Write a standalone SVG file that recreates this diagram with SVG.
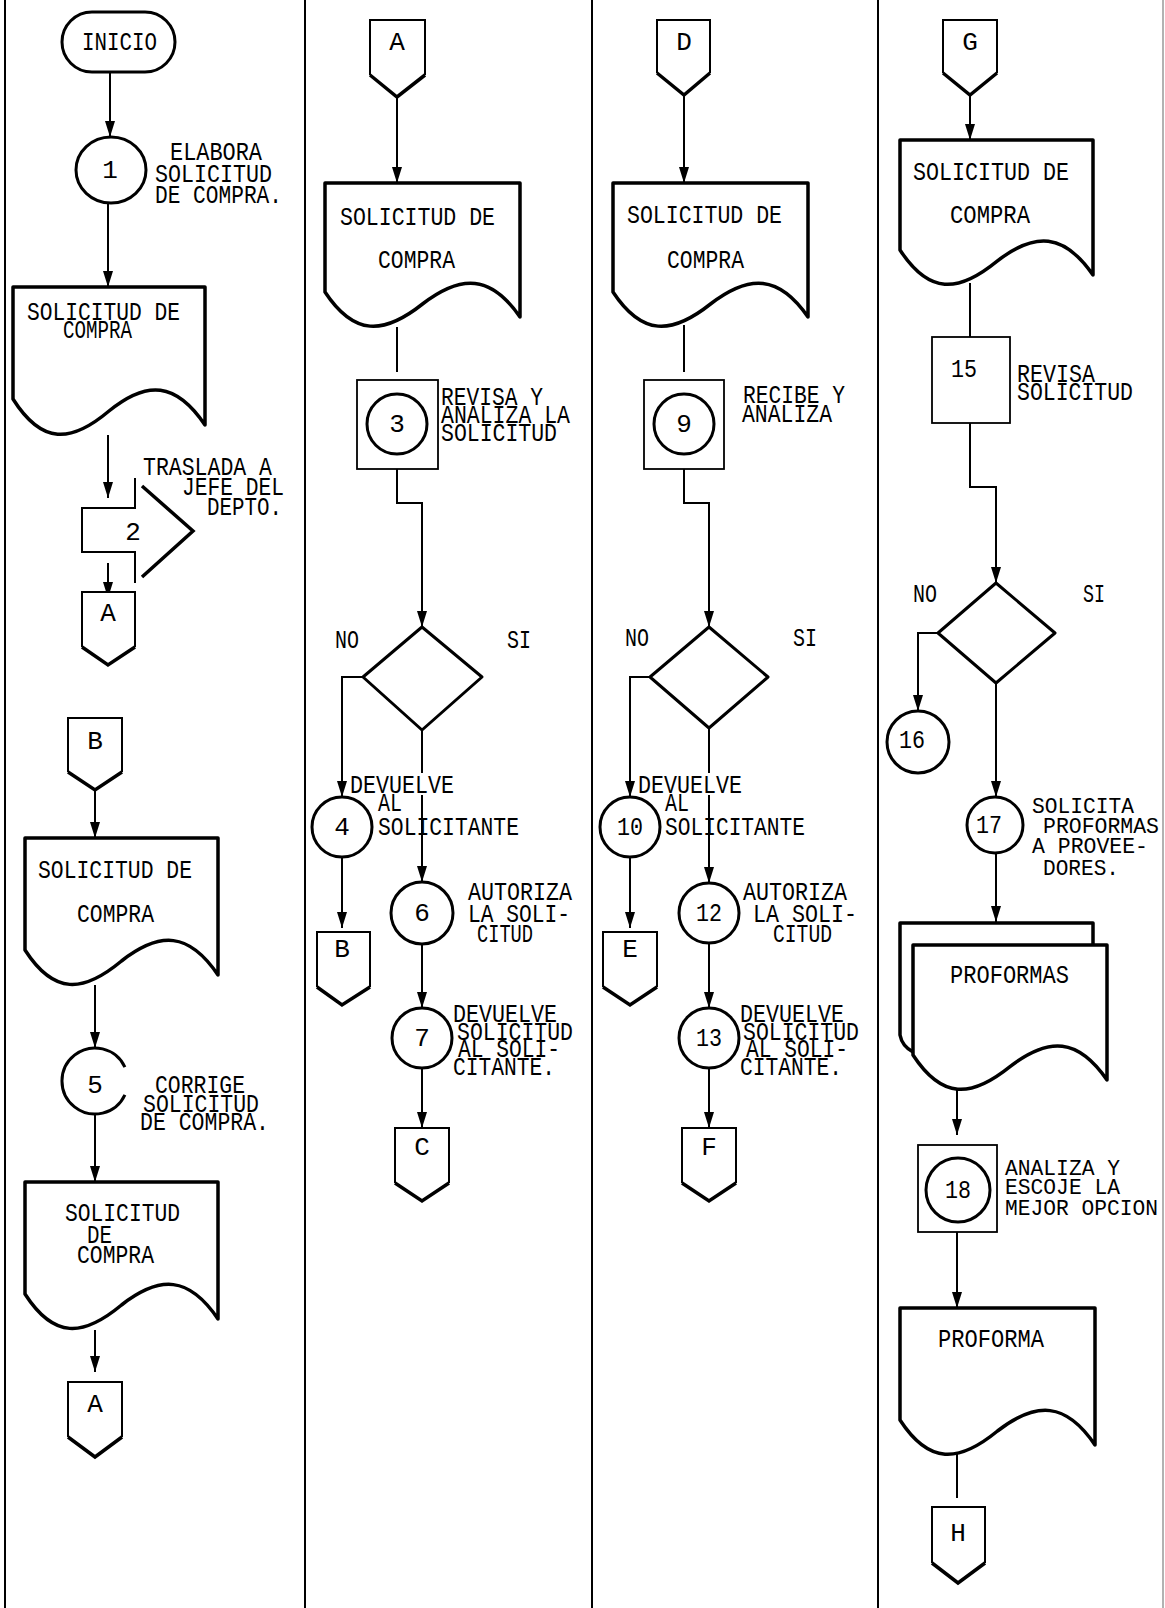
<svg xmlns="http://www.w3.org/2000/svg" width="1165" height="1608" viewBox="0 0 1165 1608">
<style>
.t{font-family:"Liberation Mono","DejaVu Sans Mono",monospace;font-size:26px;fill:#000}
.s{font-size:22px}
.m{text-anchor:middle}
.lane{stroke:#000;stroke-width:2;fill:none}
.doc{fill:#fff;stroke:#000;stroke-width:3.5;stroke-linejoin:round}
.cir{fill:#fff;stroke:#000;stroke-width:3}
.box{fill:#fff;stroke:#000;stroke-width:1.8}
.dia{fill:#fff;stroke:#000;stroke-width:3;stroke-linejoin:round}
.con{fill:#fff;stroke:#000;stroke-width:2;stroke-linejoin:miter}
.cv{fill:none;stroke:#000;stroke-width:3.5}
.ln{fill:none;stroke:#000;stroke-width:2}
.ar{fill:none;stroke:#000;stroke-width:2;marker-end:url(#ah)}
</style>
<defs>
<marker id="ah" viewBox="0 0 16 10" refX="16" refY="5" markerWidth="16" markerHeight="10" markerUnits="userSpaceOnUse" orient="auto">
<path d="M0,0 L16,5 L0,10 Z" fill="#000"/>
</marker>
</defs>
<rect width="1165" height="1608" fill="#fff"/>

<g id="lanes">
<line class="lane" x1="5" y1="0" x2="5" y2="1608" stroke-width="3"/>
<line class="lane" x1="305" y1="0" x2="305" y2="1608"/>
<line class="lane" x1="592" y1="0" x2="592" y2="1608"/>
<line class="lane" x1="878" y1="0" x2="878" y2="1608"/>
<line x1="1163" y1="0" x2="1163" y2="1608" stroke="#999" stroke-width="1.5"/>
</g>

<g id="connectors">
<path class="ar" d="M110,72 V137"/>
<path class="ar" d="M108,203 V287"/>
<path class="ar" d="M108,435 V498"/>
<path class="ar" d="M108,563 V598"/>
<path class="ar" d="M95,790 V838"/>
<path class="ar" d="M95,985 V1048"/>
<path class="ar" d="M95,1114 V1182"/>
<path class="ar" d="M95,1330 V1372"/>

<path class="ar" d="M397,97 V183"/>
<path class="ln" d="M397,327 V372"/>
<path class="ar" d="M397,469 V503 H422 V627"/>
<path class="ar" d="M363,677 H342 V797"/>
<path class="ar" d="M422,730 V773 M422,795 V882"/>
<path class="ar" d="M342,857 V928"/>
<path class="ar" d="M422,944 V1008"/>
<path class="ar" d="M422,1068 V1128"/>

<path class="ar" d="M684,95 V183"/>
<path class="ln" d="M684,325 V372"/>
<path class="ar" d="M684,469 V503 H709 V627"/>
<path class="ar" d="M650,677 H630 V797"/>
<path class="ar" d="M709,728 V773 M709,795 V883"/>
<path class="ar" d="M630,857 V928"/>
<path class="ar" d="M709,943 V1008"/>
<path class="ar" d="M709,1068 V1128"/>

<path class="ar" d="M970,95 V140"/>
<path class="ln" d="M970,283 V337"/>
<path class="ar" d="M970,423 V487 H996 V583"/>
<path class="ar" d="M938,633 H918 V711"/>
<path class="ar" d="M996,683 V797"/>
<path class="ar" d="M996,853 V922"/>
<path class="ar" d="M957,1089 V1135"/>
<path class="ar" d="M957,1232 V1308"/>
<path class="ln" d="M957,1453 V1498"/>
</g>

<!-- Column 1 -->
<g id="inicio">
<rect x="62" y="12" width="113" height="60" rx="30" fill="#fff" stroke="#000" stroke-width="3"/>
<text class="t" x="82" y="50" textLength="75" lengthAdjust="spacingAndGlyphs">INICIO</text>
</g>
<g id="op1">
<ellipse class="cir" cx="111" cy="170" rx="35" ry="33"/>
<text class="t m" x="110" y="178">1</text>
<text class="t" x="170" y="160" textLength="92" lengthAdjust="spacingAndGlyphs">ELABORA</text>
<text class="t" x="155" y="182" textLength="117" lengthAdjust="spacingAndGlyphs">SOLICITUD</text>
<text class="t" x="155" y="203" textLength="127" lengthAdjust="spacingAndGlyphs">DE COMPRA.</text>
</g>
<g id="doc1">
<path class="doc" d="M13,287 H205 V425 C176,382 147,380 109,411 C71,443 42,445 13,399 Z"/>
<text class="t" x="27" y="320" textLength="153" lengthAdjust="spacingAndGlyphs">SOLICITUD DE</text>
<text class="t" x="63" y="338" textLength="69" lengthAdjust="spacingAndGlyphs">COMPRA</text>
</g>
<g id="transport2">
<path class="ln" d="M135,478 V508 H82 V552 H135 V583"/>
<path class="cv" d="M142,486 L193,531 L142,577"/>
<text class="t m" x="133" y="540">2</text>
<text class="t" x="143" y="475" textLength="129" lengthAdjust="spacingAndGlyphs">TRASLADA A</text>
<text class="t" x="182" y="495" textLength="102" lengthAdjust="spacingAndGlyphs">JEFE DEL</text>
<text class="t" x="207" y="515" textLength="75" lengthAdjust="spacingAndGlyphs">DEPTO.</text>
</g>
<g id="connA1">
<path class="con" d="M82,647 V592 H135 V647"/>
<path class="cv" d="M82,647 L108,665 L135,647"/>
<text class="t m" x="108" y="621">A</text>
</g>
<g id="connB1">
<path class="con" d="M68,772 V718 H122 V772"/>
<path class="cv" d="M68,772 L95,790 L122,772"/>
<text class="t m" x="95" y="749">B</text>
</g>
<g id="doc2">
<path class="doc" d="M25,838 H218 V975 C189,932 160,931 121.5,961 C83,993 54,995 25,950 Z"/>
<text class="t" x="38" y="878" textLength="154" lengthAdjust="spacingAndGlyphs">SOLICITUD DE</text>
<text class="t" x="77" y="922" textLength="77" lengthAdjust="spacingAndGlyphs">COMPRA</text>
</g>
<g id="op5">
<path class="cir" fill="none" d="M124.9,1067.1 A33,33 0 1 0 124.9,1094.9"/>
<text class="t m" x="95" y="1093">5</text>
<text class="t" x="155" y="1093" textLength="90" lengthAdjust="spacingAndGlyphs">CORRIGE</text>
<text class="t" x="143" y="1112" textLength="116" lengthAdjust="spacingAndGlyphs">SOLICITUD</text>
<text class="t" x="140" y="1130" textLength="129" lengthAdjust="spacingAndGlyphs">DE COMPRA.</text>
</g>
<g id="doc3">
<path class="doc" d="M25,1182 H218 V1319 C189,1276 160,1275 121.5,1305 C83,1337 54,1339 25,1294 Z"/>
<text class="t" x="65" y="1221" textLength="115" lengthAdjust="spacingAndGlyphs">SOLICITUD</text>
<text class="t" x="87" y="1243" textLength="25" lengthAdjust="spacingAndGlyphs">DE</text>
<text class="t" x="77" y="1263" textLength="77" lengthAdjust="spacingAndGlyphs">COMPRA</text>
</g>
<g id="connA1b">
<path class="con" d="M68,1437 V1382 H122 V1437"/>
<path class="cv" d="M68,1437 L95,1457 L122,1437"/>
<text class="t m" x="95" y="1412">A</text>
</g>

<!-- Column 2 -->
<g id="connA2">
<path class="con" d="M370,75 V20 H425 V75"/>
<path class="cv" d="M370,75 L397,97 L425,75"/>
<text class="t m" x="397" y="50">A</text>
</g>
<g id="doc4">
<path class="doc" d="M325,183 H520 V317 C491,275 461.5,274 422.5,304 C383.5,335 354,336 325,292 Z"/>
<text class="t" x="340" y="225" textLength="155" lengthAdjust="spacingAndGlyphs">SOLICITUD DE</text>
<text class="t" x="378" y="268" textLength="77" lengthAdjust="spacingAndGlyphs">COMPRA</text>
</g>
<g id="op3">
<rect class="box" x="357" y="380" width="81" height="89"/>
<circle class="cir" cx="397" cy="424" r="30"/>
<text class="t m" x="397" y="432">3</text>
<text class="t" x="441" y="405" textLength="102" lengthAdjust="spacingAndGlyphs">REVISA Y</text>
<text class="t" x="441" y="423" textLength="129" lengthAdjust="spacingAndGlyphs">ANALIZA LA</text>
<text class="t" x="441" y="441" textLength="116" lengthAdjust="spacingAndGlyphs">SOLICITUD</text>
</g>
<g id="dec2">
<polygon class="dia" points="422,627 482,677 422,730 363,677"/>
<text class="t" x="335" y="648" textLength="24" lengthAdjust="spacingAndGlyphs">NO</text>
<text class="t" x="507" y="648" textLength="24" lengthAdjust="spacingAndGlyphs">SI</text>
</g>
<g id="op4">
<circle class="cir" cx="342" cy="827" r="30"/>
<text class="t m" x="342" y="835">4</text>
<text class="t" x="350" y="793" textLength="104" lengthAdjust="spacingAndGlyphs">DEVUELVE</text>
<text class="t" x="378" y="811" textLength="24" lengthAdjust="spacingAndGlyphs">AL</text>
<text class="t" x="378" y="835" textLength="141" lengthAdjust="spacingAndGlyphs">SOLICITANTE</text>
</g>
<g id="op6">
<circle class="cir" cx="422" cy="913" r="31"/>
<text class="t m" x="422" y="921">6</text>
<text class="t" x="468" y="900" textLength="104" lengthAdjust="spacingAndGlyphs">AUTORIZA</text>
<text class="t" x="468" y="922" textLength="102" lengthAdjust="spacingAndGlyphs">LA SOLI-</text>
<text class="t" x="477" y="942" textLength="56" lengthAdjust="spacingAndGlyphs">CITUD</text>
</g>
<g id="connB2">
<path class="con" d="M317,987 V932 H370 V987"/>
<path class="cv" d="M317,987 L342,1005 L370,987"/>
<text class="t m" x="342" y="957">B</text>
</g>
<g id="op7">
<circle class="cir" cx="422" cy="1038" r="30"/>
<text class="t m" x="422" y="1046">7</text>
<text class="t" x="453" y="1022" textLength="104" lengthAdjust="spacingAndGlyphs">DEVUELVE</text>
<text class="t" x="457" y="1040" textLength="116" lengthAdjust="spacingAndGlyphs">SOLICITUD</text>
<text class="t" x="458" y="1057" textLength="102" lengthAdjust="spacingAndGlyphs">AL SOLI-</text>
<text class="t" x="453" y="1075" textLength="102" lengthAdjust="spacingAndGlyphs">CITANTE.</text>
</g>
<g id="connC">
<path class="con" d="M395,1183 V1128 H449 V1183"/>
<path class="cv" d="M395,1183 L422,1201 L449,1183"/>
<text class="t m" x="422" y="1155">C</text>
</g>

<!-- Column 3 -->
<g id="connD">
<path class="con" d="M657,73 V20 H710 V73"/>
<path class="cv" d="M657,73 L684,95 L710,73"/>
<text class="t m" x="684" y="50">D</text>
</g>
<g id="doc5">
<path class="doc" d="M613,183 H808 V317 C779,275 749.5,274 710.5,304 C671.5,335 642,336 613,292 Z"/>
<text class="t" x="627" y="223" textLength="155" lengthAdjust="spacingAndGlyphs">SOLICITUD DE</text>
<text class="t" x="667" y="268" textLength="77" lengthAdjust="spacingAndGlyphs">COMPRA</text>
</g>
<g id="op9">
<rect class="box" x="644" y="380" width="80" height="89"/>
<circle class="cir" cx="684" cy="424" r="30"/>
<text class="t m" x="684" y="432">9</text>
<text class="t" x="743" y="403" textLength="102" lengthAdjust="spacingAndGlyphs">RECIBE Y</text>
<text class="t" x="742" y="422" textLength="90" lengthAdjust="spacingAndGlyphs">ANALIZA</text>
</g>
<g id="dec3">
<polygon class="dia" points="709,627 768,677 709,728 650,677"/>
<text class="t" x="625" y="646" textLength="24" lengthAdjust="spacingAndGlyphs">NO</text>
<text class="t" x="793" y="646" textLength="24" lengthAdjust="spacingAndGlyphs">SI</text>
</g>
<g id="op10">
<circle class="cir" cx="630" cy="827" r="30"/>
<text class="t m" x="630" y="835" textLength="26" lengthAdjust="spacingAndGlyphs">10</text>
<text class="t" x="638" y="793" textLength="104" lengthAdjust="spacingAndGlyphs">DEVUELVE</text>
<text class="t" x="665" y="811" textLength="24" lengthAdjust="spacingAndGlyphs">AL</text>
<text class="t" x="665" y="835" textLength="140" lengthAdjust="spacingAndGlyphs">SOLICITANTE</text>
</g>
<g id="op12">
<circle class="cir" cx="709" cy="913" r="30"/>
<text class="t m" x="709" y="921" textLength="26" lengthAdjust="spacingAndGlyphs">12</text>
<text class="t" x="743" y="900" textLength="104" lengthAdjust="spacingAndGlyphs">AUTORIZA</text>
<text class="t" x="753" y="922" textLength="104" lengthAdjust="spacingAndGlyphs">LA SOLI-</text>
<text class="t" x="773" y="942" textLength="59" lengthAdjust="spacingAndGlyphs">CITUD</text>
</g>
<g id="connE">
<path class="con" d="M603,987 V932 H657 V987"/>
<path class="cv" d="M603,987 L630,1005 L657,987"/>
<text class="t m" x="630" y="957">E</text>
</g>
<g id="op13">
<circle class="cir" cx="709" cy="1038" r="30"/>
<text class="t m" x="709" y="1046" textLength="26" lengthAdjust="spacingAndGlyphs">13</text>
<text class="t" x="740" y="1022" textLength="104" lengthAdjust="spacingAndGlyphs">DEVUELVE</text>
<text class="t" x="743" y="1040" textLength="116" lengthAdjust="spacingAndGlyphs">SOLICITUD</text>
<text class="t" x="746" y="1057" textLength="102" lengthAdjust="spacingAndGlyphs">AL SOLI-</text>
<text class="t" x="740" y="1075" textLength="102" lengthAdjust="spacingAndGlyphs">CITANTE.</text>
</g>
<g id="connF">
<path class="con" d="M682,1183 V1128 H736 V1183"/>
<path class="cv" d="M682,1183 L709,1201 L736,1183"/>
<text class="t m" x="709" y="1155">F</text>
</g>

<!-- Column 4 -->
<g id="connG">
<path class="con" d="M943,73 V20 H997 V73"/>
<path class="cv" d="M943,73 L970,95 L997,73"/>
<text class="t m" x="970" y="50">G</text>
</g>
<g id="doc6">
<path class="doc" d="M900,140 H1093 V275 C1064,233 1035,231.5 996.5,261.6 C958,293 929,294.4 900,250 Z"/>
<text class="t" x="913" y="180" textLength="156" lengthAdjust="spacingAndGlyphs">SOLICITUD DE</text>
<text class="t" x="950" y="223" textLength="80" lengthAdjust="spacingAndGlyphs">COMPRA</text>
</g>
<g id="op15">
<rect class="box" x="932" y="337" width="78" height="86"/>
<text class="t m" x="964" y="377" textLength="26" lengthAdjust="spacingAndGlyphs">15</text>
<text class="t" x="1017" y="382" textLength="78" lengthAdjust="spacingAndGlyphs">REVISA</text>
<text class="t" x="1017" y="400" textLength="116" lengthAdjust="spacingAndGlyphs">SOLICITUD</text>
</g>
<g id="dec4">
<polygon class="dia" points="996,583 1055,633 996,683 938,633"/>
<text class="t" x="913" y="602" textLength="24" lengthAdjust="spacingAndGlyphs">NO</text>
<text class="t" x="1083" y="602" textLength="22" lengthAdjust="spacingAndGlyphs">SI</text>
</g>
<g id="op16">
<circle class="cir" cx="918" cy="742" r="31"/>
<text class="t m" x="912" y="748" textLength="26" lengthAdjust="spacingAndGlyphs">16</text>
</g>
<g id="op17">
<circle class="cir" cx="995" cy="825" r="28"/>
<text class="t m" x="989" y="833" textLength="26" lengthAdjust="spacingAndGlyphs">17</text>
<text class="t s" x="1032" y="813" textLength="102" lengthAdjust="spacingAndGlyphs">SOLICITA</text>
<text class="t s" x="1043" y="833" textLength="116" lengthAdjust="spacingAndGlyphs">PROFORMAS</text>
<text class="t s" x="1032" y="853" textLength="116" lengthAdjust="spacingAndGlyphs">A PROVEE-</text>
<text class="t s" x="1043" y="875" textLength="76" lengthAdjust="spacingAndGlyphs">DORES.</text>
</g>
<g id="proformas">
<path class="doc" fill="none" d="M1093,945 V923 H900 V1035 Q902,1046 913,1052"/>
<path class="doc" d="M913,945 H1107 V1080 C1078,1038 1049,1036.5 1010,1066.6 C971,1098 942,1099.4 913,1055 Z"/>
<text class="t" x="950" y="983" textLength="119" lengthAdjust="spacingAndGlyphs">PROFORMAS</text>
</g>
<g id="op18">
<rect class="box" x="918" y="1145" width="79" height="87"/>
<circle class="cir" cx="958" cy="1190" r="32"/>
<text class="t m" x="958" y="1198" textLength="26" lengthAdjust="spacingAndGlyphs">18</text>
<text class="t s" x="1005" y="1175" textLength="115" lengthAdjust="spacingAndGlyphs">ANALIZA Y</text>
<text class="t s" x="1005" y="1194" textLength="115" lengthAdjust="spacingAndGlyphs">ESCOJE LA</text>
<text class="t s" x="1005" y="1215" textLength="153" lengthAdjust="spacingAndGlyphs">MEJOR OPCION</text>
</g>
<g id="proforma">
<path class="doc" d="M900,1308 H1095 V1445 C1066,1402 1036.5,1401 997.5,1431 C958.5,1463 929,1464.6 900,1420 Z"/>
<text class="t" x="938" y="1347" textLength="106" lengthAdjust="spacingAndGlyphs">PROFORMA</text>
</g>
<g id="connH">
<path class="con" d="M932,1563 V1507 H985 V1563"/>
<path class="cv" d="M932,1563 L958,1583 L985,1563"/>
<text class="t m" x="958" y="1541">H</text>
</g>
</svg>
